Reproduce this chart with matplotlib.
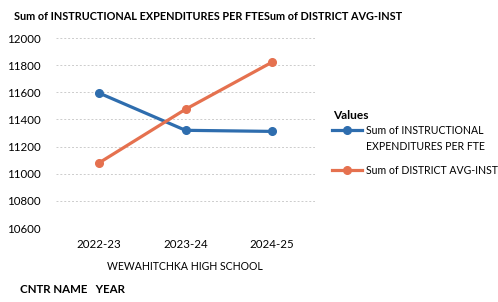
import matplotlib.pyplot as plt
from matplotlib.lines import Line2D

years = ['2022-23', '2023-24', '2024-25']
instr_per_fte = [11595, 11320, 11312]
district_avg = [11080, 11475, 11822]
yticks = [10600, 10800, 11000, 11200, 11400, 11600, 11800, 12000]

blue = '#2E6DAE'
orange = '#E5714F'

plt.rcParams['font.family'] = ['Lato', 'DejaVu Sans']

W, H = 498, 302
fig = plt.figure(figsize=(W / 100, H / 100), dpi=100)
ax = fig.add_axes([0.112, 0.245, 0.521, 0.629])

x = range(len(years))
ax.plot(x, instr_per_fte, color=blue, lw=2.3, marker='o', ms=5.5)
ax.plot(x, district_avg, color=orange, lw=2.3, marker='o', ms=5.5)

ax.set_xlim(-0.5, len(years) - 0.5)
ax.set_ylim(10600, 12000)
ax.set_yticks(yticks)
ax.set_yticklabels([str(v) for v in yticks], fontsize=8.3)
ax.set_xticks(list(x))
ax.set_xticklabels(years, fontsize=8.3)
ax.tick_params(length=0, pad=8)
ax.tick_params(axis='y', pad=11)
ax.grid(axis='y', color='#cccccc', lw=0.7, ls=(0, (2, 2)))
for s in ax.spines.values():
    s.set_visible(False)

fig.text(0.028, 0.945, 'Sum of INSTRUCTIONAL EXPENDITURES PER FTESum of DISTRICT AVG-INST',
         fontsize=7.8, fontweight='bold', va='center')
fig.text(0.372, 0.118, 'WEWAHITCHKA HIGH SCHOOL', fontsize=7.6, ha='center', va='center')
fig.text(0.04, 0.04, 'CNTR NAME   YEAR', fontsize=8.3, fontweight='bold', va='center')

# legend drawn by hand so the marker sits on the first text line
def px(xp, yp):
    return xp / W, 1 - yp / H

fig.text(*px(333, 115), 'Values', fontsize=8.6, fontweight='bold', va='center')
for color, yp in [(blue, 130), (orange, 170)]:
    x0, y0 = px(332, yp)
    x1, _ = px(362, yp)
    fig.add_artist(Line2D([x0, x1], [y0, y0], color=color, lw=2.3))
    fig.add_artist(Line2D([(x0 + x1) / 2], [y0], color=color, marker='o', ms=5.5))
fig.text(*px(366, 130), 'Sum of INSTRUCTIONAL', fontsize=7.6, va='center')
fig.text(*px(366, 146), 'EXPENDITURES PER FTE', fontsize=7.6, va='center')
fig.text(*px(366, 170), 'Sum of DISTRICT AVG-INST', fontsize=7.6, va='center')

fig.savefig('out.png', dpi=100)
